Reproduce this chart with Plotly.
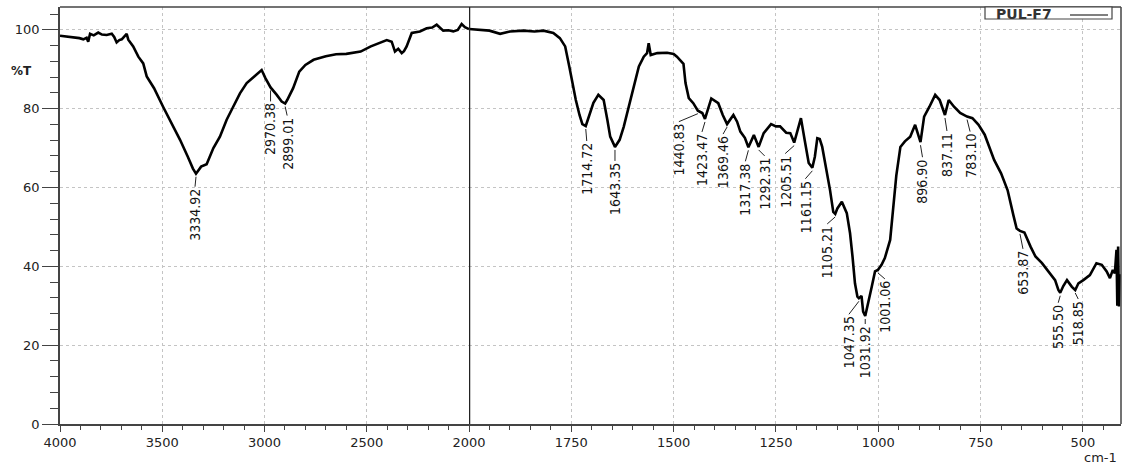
import plotly.graph_objects as go

# FTIR transmittance spectrum of sample PUL-F7 (wavenumber in cm-1, %T)
wavenumber = [
    4000, 3965, 3935, 3905, 3886, 3870, 3862, 3853, 3835, 3813, 3795, 3772, 3747, 3735,
    3723, 3710, 3698, 3674, 3666, 3642, 3617, 3593, 3576, 3540, 3496, 3455, 3413, 3375,
    3350, 3334.92, 3320, 3310, 3283, 3250, 3218, 3185, 3153, 3120, 3087, 3050, 3014,
    2995, 2970.38, 2940, 2916, 2899.01, 2889, 2860, 2830, 2800, 2760, 2700, 2650, 2600,
    2530, 2480, 2420, 2402, 2378, 2362, 2346, 2329, 2318, 2305, 2280, 2240, 2207, 2180,
    2158, 2140, 2126, 2100, 2077, 2055, 2036, 2020, 2000,
    1973, 1950, 1924, 1900, 1867, 1840, 1818, 1794, 1778, 1765, 1755, 1739, 1730, 1723,
    1714.72, 1705, 1696, 1684, 1671, 1662, 1655, 1643.35, 1632, 1622, 1610, 1597, 1585,
    1573, 1565, 1561, 1556, 1540, 1516, 1500, 1492, 1476, 1471, 1463, 1452, 1440.83, 1430,
    1423.47, 1408, 1391, 1380, 1369.46, 1354, 1345, 1337, 1326, 1317.38, 1304, 1292.31,
    1280, 1262, 1250, 1240, 1225, 1215, 1205.51, 1195, 1189, 1180, 1170, 1161.15, 1155,
    1149, 1143, 1137, 1128, 1118, 1110, 1105.21, 1100, 1089, 1077, 1069, 1063, 1057, 1051,
    1047.35, 1041, 1037, 1031.92, 1024, 1016, 1008, 1001.06, 992, 984, 971, 963, 956, 946,
    935, 922, 910, 896.90, 888, 875, 861, 850, 837.11, 828, 815, 800, 783.10, 770, 755,
    740, 717, 700, 684, 670, 662, 653.87, 643, 628, 616, 600, 584, 576, 568, 560, 555.50,
    548, 539, 527, 518.85, 511, 499, 483, 467, 454, 442, 434, 427, 422, 418, 416, 414,
    412, 410,
]
transmittance = [
    98.5, 98.3, 98.1, 97.9, 97.6, 98.0, 97.0, 99.0, 98.6, 99.3, 98.8, 98.7, 99.0, 98.2,
    96.8, 97.4, 97.6, 99.0, 97.5, 95.8, 93.2, 91.5, 88.2, 85.2, 80.5, 76.4, 72.1, 67.8,
    64.8, 63.5, 64.6, 65.3, 65.9, 70.0, 72.9, 77.2, 80.5, 83.9, 86.5, 88.2, 89.8,
    87.7, 85.4, 83.5, 81.8, 81.3, 82.2, 85.2, 89.4, 91.1, 92.4, 93.3, 93.8, 93.9,
    94.5, 95.8, 97.0, 97.4, 97.0, 94.5, 95.2, 94.1, 94.6, 95.8, 99.2, 99.6, 100.4, 100.6,
    101.3, 100.4, 99.8, 99.9, 99.6, 100.0, 101.5, 100.7, 100.2,
    100.0, 99.8, 99.0, 99.6, 99.8, 99.6, 99.8, 99.2, 97.9, 95.8, 90.7, 82.2, 78.4, 76.1,
    75.6, 78.4, 81.5, 83.5, 82.2, 77.2, 72.9, 70.3, 72.1, 75.4, 80.5, 85.5, 90.7,
    93.2, 94.1, 96.6, 93.6, 94.1, 94.2, 93.9, 93.2, 91.4, 86.5, 82.7, 81.4, 79.5, 78.9,
    77.4, 82.6, 81.4, 78.4, 76.1, 78.4, 76.7, 74.2, 72.6, 70.2, 73.3, 70.3,
    73.8, 76.1, 75.5, 75.5, 73.9, 73.8, 71.4, 75.5, 77.6, 72.1, 66.2, 65.0, 67.8,
    72.5, 72.3, 70.3, 65.3, 59.4, 53.8, 53.3, 54.7, 56.4, 53.5, 48.4, 42.5, 35.7, 32.3,
    31.9, 32.5, 28.5, 27.4, 31.5, 34.8, 38.7, 39.1, 40.4, 42.1, 46.7, 55.0, 63.0, 70.3,
    71.7, 72.9, 75.9, 71.5, 78.0, 80.5, 83.5, 82.2, 78.4, 82.2, 80.5, 78.9, 78.0, 77.6, 75.9,
    73.4, 67.0, 63.6, 59.3, 53.0, 49.6, 49.0, 48.6, 45.0, 42.5, 40.8, 38.7, 37.4, 36.5, 34.0, 33.3,
    35.0, 36.5, 34.8, 34.0, 35.7, 36.5, 37.8, 40.8, 40.4, 38.7, 37.0, 39.1, 38.2, 44.2, 30.0, 45.0,
    29.8, 38.0,
]

# Peaks picked and labelled on the spectrum
peak_labels = [
    "3334.92", "2970.38", "2899.01", "1714.72", "1643.35", "1440.83", "1423.47",
    "1369.46", "1317.38", "1292.31", "1205.51", "1161.15", "1105.21", "1047.35",
    "1031.92", "1001.06", "896.90", "837.11", "783.10", "653.87", "555.50", "518.85",
]

# Label placement (pixels): horizontal shift and drop below the peak
label_dx = [-1, 0, 2, 1, 0, -19, -3, -4, -3, 6, -9, -7, -8, -10, 0, 7, 2, 2, 3, 3, -2, 3]
label_gap = [14, 15, 13, 16, 15, 12, 14, 11, 15, 10, 12, 12, 11, 17, 9, 10, 16, 17, 16, 19, 11, 10]

series_name = "PUL-F7"
x_left_ticks = [4000, 3500, 3000, 2500]
x_right_ticks = [2000, 1750, 1500, 1250, 1000, 750, 500]
y_ticks = [0, 20, 40, 60, 80, 100]

# Layout geometry
W, H = 1124, 466
ML, MR, MT, MB = 60, 3, 7, 42
plot_w = W - ML - MR
plot_h = H - MT - MB
split = 409 / plot_w  # 4000-2000 half of the scale is compressed

AXIS_COL = "#444"
GRID_COL = "#c4c4c4"
TEXT_COL = "#222"
tick_font = dict(family="DejaVu Sans", size=13, color=TEXT_COL)
peak_font = dict(family="Liberation Sans Narrow, Arial Narrow, DejaVu Sans Condensed",
                 size=14, color="#111")

left_x = [w for w in wavenumber if w >= 2000]
left_y = [t for w, t in zip(wavenumber, transmittance) if w >= 2000]
right_x = [w for w in wavenumber if w <= 2000]
right_y = [t for w, t in zip(wavenumber, transmittance) if w <= 2000]

fig = go.Figure()
line_style = dict(color="black", width=2.6)
fig.add_trace(go.Scatter(x=left_x, y=left_y, mode="lines", line=line_style,
                         xaxis="x", yaxis="y", showlegend=False, hoverinfo="x+y"))
fig.add_trace(go.Scatter(x=right_x, y=right_y, mode="lines", line=line_style,
                         xaxis="x2", yaxis="y", showlegend=False, hoverinfo="x+y"))

common_x = dict(
    showgrid=True, griddash="dot", gridcolor=GRID_COL, gridwidth=1,
    ticks="outside", ticklen=6, tickwidth=1, tickcolor=AXIS_COL,
    showline=True, linecolor=AXIS_COL, linewidth=1.5,
    zeroline=False, tickfont=tick_font, anchor="y",
)

fig.update_layout(
    width=W, height=H,
    margin=dict(l=ML, r=MR, t=MT, b=MB),
    paper_bgcolor="white", plot_bgcolor="white",
    xaxis=dict(domain=[0, split], range=[4000, 2000], tickvals=x_left_ticks,
               minor=dict(dtick=100, tick0=0, ticks="outside", ticklen=4,
                          tickcolor=AXIS_COL, showgrid=False),
               **common_x),
    xaxis2=dict(domain=[split, 1], range=[2000, 407], tickvals=x_right_ticks,
                minor=dict(dtick=50, tick0=0, ticks="outside", ticklen=4,
                           tickcolor=AXIS_COL, showgrid=False),
                **common_x),
    yaxis=dict(range=[0, 105.8], tickvals=y_ticks,
               showgrid=True, griddash="dot", gridcolor=GRID_COL, gridwidth=1,
               ticks="outside", ticklen=16, tickwidth=1, tickcolor=AXIS_COL,
               minor=dict(dtick=4, tick0=0, ticks="outside", ticklen=8,
                          tickcolor=AXIS_COL, showgrid=False),
               showline=True, linecolor=AXIS_COL, linewidth=1.5,
               zeroline=False, tickfont=tick_font),
)

shapes = [
    # frame: top and right edges
    dict(type="line", xref="paper", yref="paper", x0=0, x1=1, y0=1, y1=1,
         line=dict(color=AXIS_COL, width=1.5)),
    dict(type="line", xref="paper", yref="paper", x0=1, x1=1, y0=0, y1=1,
         line=dict(color=AXIS_COL, width=1.5)),
    # scale change at 2000 cm-1
    dict(type="line", xref="x2", yref="paper", x0=2000, x1=2000, y0=0, y1=1,
         line=dict(color="#222", width=2.5)),
]


def px_x(p):
    return (p - ML) / plot_w


def px_y(p):
    return (H - MB - p) / plot_h


# legend box in the top-right corner
shapes.append(dict(type="rect", xref="paper", yref="paper",
                   x0=px_x(985), x1=px_x(1112), y0=px_y(19), y1=1,
                   fillcolor="white", line=dict(color=AXIS_COL, width=1.2)))
shapes.append(dict(type="line", xref="paper", yref="paper",
                   x0=px_x(1070), x1=px_x(1108), y0=px_y(15), y1=px_y(15),
                   line=dict(color="black", width=1.2)))

annotations = [
    dict(text=series_name, xref="paper", yref="paper", x=px_x(1024), y=px_y(13.5),
         xanchor="center", yanchor="middle", showarrow=False,
         font=dict(family="DejaVu Sans", size=14, color="#333", weight="bold")),
    dict(text="%T", xref="paper", yref="paper", x=px_x(21), y=px_y(71),
         xanchor="center", yanchor="middle", showarrow=False,
         font=dict(family="DejaVu Sans", size=12, color=TEXT_COL, weight="bold")),
    dict(text="cm-1", xref="paper", yref="paper", x=px_x(1100), y=px_y(457),
         xanchor="center", yanchor="middle", showarrow=False,
         font=dict(family="DejaVu Sans", size=13, color=TEXT_COL)),
]

lookup = dict(zip(wavenumber, transmittance))
for lab, dx, gap in zip(peak_labels, label_dx, label_gap):
    wn = float(lab)
    t = lookup[wn]
    xr = "x" if wn > 2000 else "x2"
    annotations.append(dict(
        text=lab, x=wn, y=t, xref=xr, yref="y", textangle=-90,
        xanchor="center", yanchor="top", xshift=dx, yshift=-gap,
        showarrow=False, font=peak_font, borderpad=0,
    ))
    # leader tick from the peak down to the label
    shapes.append(dict(
        type="line", xref=xr, yref="y", xsizemode="pixel", ysizemode="pixel",
        xanchor=wn, yanchor=t, x0=0, x1=dx, y0=-3, y1=-gap + 1,
        line=dict(color="#222", width=1),
    ))

fig.update_layout(shapes=shapes, annotations=annotations)
fig.write_html("out.html")
